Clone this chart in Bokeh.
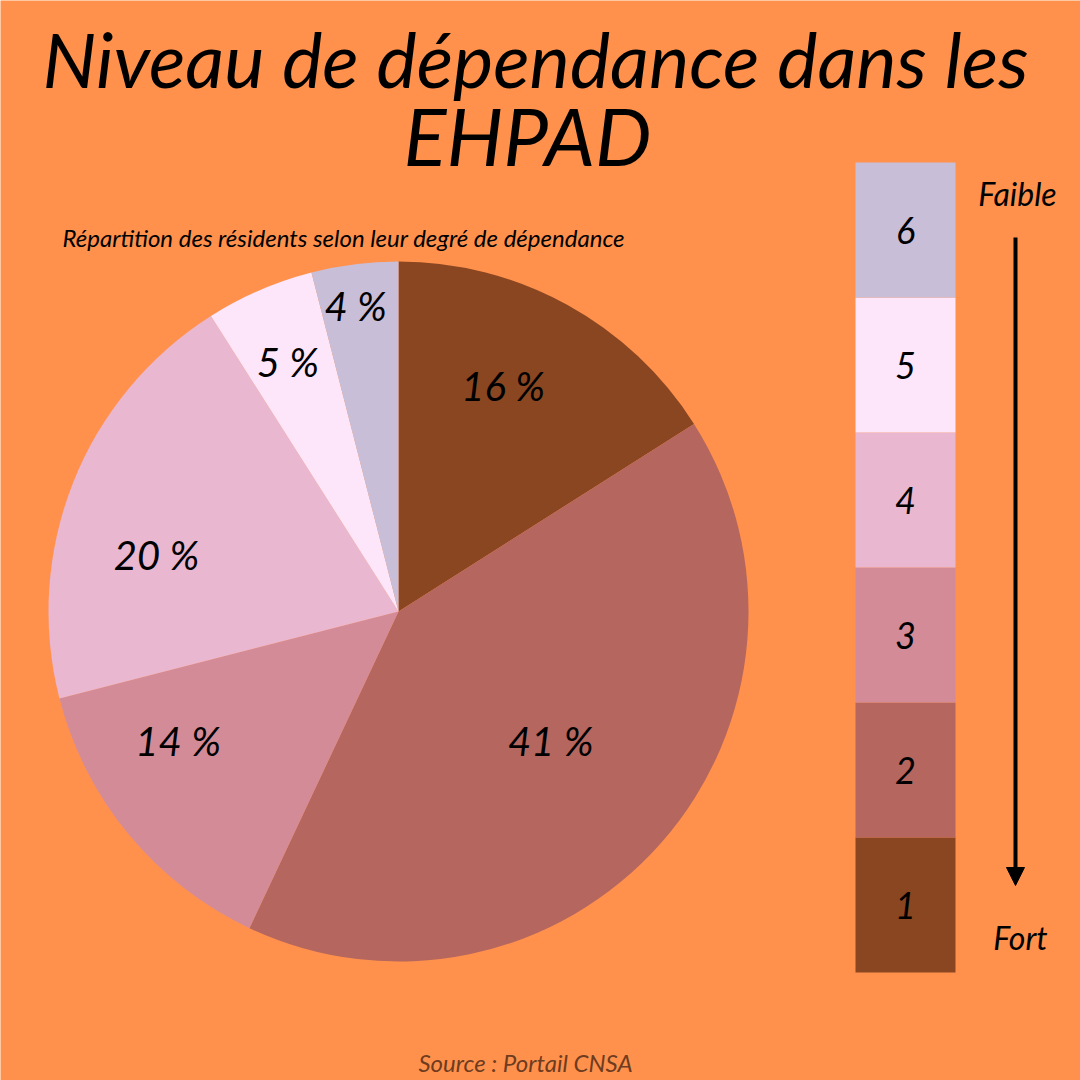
import math
from bokeh.plotting import figure
from bokeh.models import ColumnDataSource, Range1d, Arrow, NormalHead
from bokeh.core.properties import value
from bokeh.embed import file_html
from bokeh.resources import INLINE

# ---- data ----
levels = ["1", "2", "3", "4", "5", "6"]
shares = [16, 41, 14, 20, 5, 4]
pct_labels = ["16 %", "41 %", "14 %", "20 %", "5 %", "4 %"]
colors = ["#8A4621", "#B5665E", "#D48B98", "#E9B7CF", "#FDE6FA", "#C9BED8"]
title_lines = ["Niveau de dépendance dans les", "EHPAD"]
subtitle = "Répartition des résidents selon leur degré de dépendance"
source_txt = "Source : Portail CNSA"
legend_top, legend_bottom = "Faible", "Fort"

# ---- style ----
BG = "#FF914D"
FONT = "Lato"
W = H = 1080
label_r = [0.71, 0.57, 0.73, 0.71, 0.78, 0.88]       # fraction of radius
label_da = [3.9, 1.1, -9.2, 8.5, 0.5, 0.8]            # degrees off mid-angle

def Y(v):
    return H - v

p = figure(width=W, height=H, x_range=Range1d(0, W), y_range=Range1d(0, H),
           output_backend="svg", toolbar_location=None,
           x_axis_location=None, y_axis_location=None, min_border=0)
p.background_fill_color = BG
p.border_fill_color = BG
p.outline_line_color = None
p.grid.visible = False

# ---- pie ----
cx, cy, R = 398, Y(611), 350
total = sum(shares)
starts, ends, lx, ly = [], [], [], []
cum = 0
for i, s in enumerate(shares):
    a0 = math.pi / 2 - 2 * math.pi * cum / total
    a1 = math.pi / 2 - 2 * math.pi * (cum + s) / total
    starts.append(a0)
    ends.append(a1)
    mid = (a0 + a1) / 2 + math.radians(label_da[i])
    lx.append(cx + label_r[i] * R * math.cos(mid))
    ly.append(cy + label_r[i] * R * math.sin(mid))
    cum += s

pie_src = ColumnDataSource(dict(start=starts, end=ends, color=colors,
                                lx=lx, ly=ly, label=pct_labels))
p.wedge(x=cx, y=cy, radius=R, start_angle="start", end_angle="end",
        direction="clock", fill_color="color", line_color=None, source=pie_src)
p.text(x="lx", y="ly", text="label", source=pie_src,
       text_font=value(FONT), text_font_style="italic", text_font_size="40px",
       text_align="center", text_baseline="middle", text_color="black")

# ---- titles ----
p.text(x=[535], y=[Y(58)], text=[title_lines[0]], text_font=value(FONT),
       text_font_style="italic", text_font_size="76px", text_align="center",
       text_baseline="middle", text_color="black")
p.text(x=[527], y=[Y(134)], text=[title_lines[1]], text_font=value(FONT),
       text_font_style="italic", text_font_size="80px", text_align="center",
       text_baseline="middle", text_color="black")
p.text(x=[62], y=[Y(237)], text=[subtitle], text_font=value(FONT),
       text_font_style="italic", text_font_size="24px", text_align="left",
       text_baseline="middle", text_color="black")

# ---- legend bar ----
seg_h = 135
bar_bottom = Y(972)
n = len(levels)
bots = [bar_bottom + i * seg_h for i in range(n)]
tops = [b + seg_h for b in bots]
leg_src = ColumnDataSource(dict(bottom=bots, top=tops, color=colors,
                                ty=[(b + t) / 2 for b, t in zip(bots, tops)],
                                label=levels))
p.quad(left=855, right=955, bottom="bottom", top="top", fill_color="color",
       line_color=None, source=leg_src)
p.text(x=905, y="ty", text="label", source=leg_src, text_font=value(FONT),
       text_font_style="italic", text_font_size="36px", text_align="center",
       text_baseline="middle", text_color="black")

p.text(x=[1017], y=[Y(193)], text=[legend_top], text_font=value(FONT),
       text_font_style="italic", text_font_size="32px", text_align="center",
       text_baseline="middle", text_color="black")
p.text(x=[1020], y=[Y(937)], text=[legend_bottom], text_font=value(FONT),
       text_font_style="italic", text_font_size="32px", text_align="center",
       text_baseline="middle", text_color="black")

p.add_layout(Arrow(end=NormalHead(size=18, fill_color="black", line_color="black"),
                   x_start=1015, y_start=Y(237), x_end=1015, y_end=Y(885),
                   line_width=4, line_color="black"))

# ---- source ----
p.text(x=[525], y=[Y(1062)], text=[source_txt], text_font=value(FONT),
       text_font_style="italic", text_font_size="24px", text_align="center",
       text_baseline="middle", text_color="#6E3C1F")

open("out.html", "w").write(file_html(p, INLINE))
